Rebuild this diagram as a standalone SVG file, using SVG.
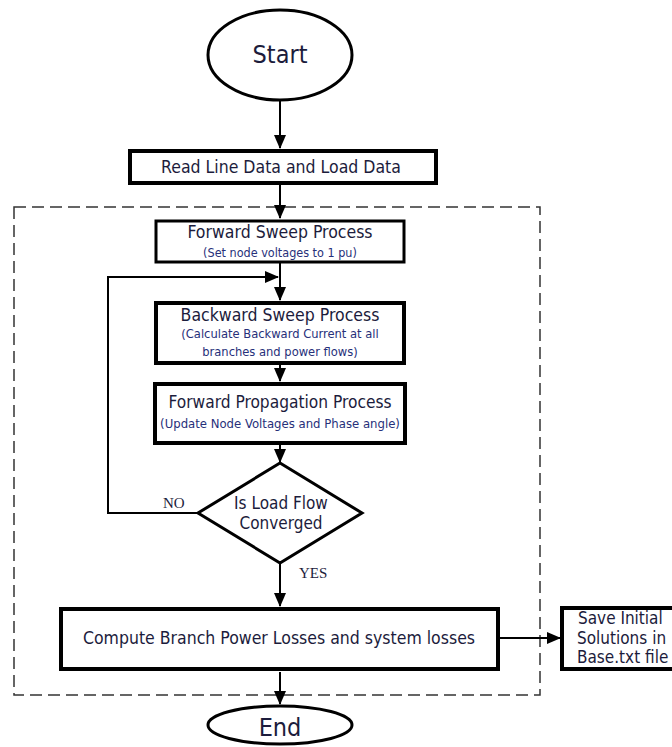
<svg xmlns="http://www.w3.org/2000/svg" width="672" height="747" viewBox="0 0 672 747">
<style>
.box{fill:#fff;stroke:#000;stroke-width:4}
.thin{fill:#fff;stroke:#000;stroke-width:3}
.t{font-family:"DejaVu Sans Condensed","Liberation Sans",sans-serif;fill:#1c1c3c;text-anchor:middle}
.l{font-family:"DejaVu Sans Condensed","Liberation Sans",sans-serif;fill:#1c1c3c;text-anchor:start}
.s{font-family:"DejaVu Sans Condensed","Liberation Sans",sans-serif;fill:#27307a;text-anchor:middle}
.lbl{font-family:"Liberation Serif",serif;fill:#1c1c3c;font-size:15px}
.c{fill:none;stroke:#000;stroke-width:2}
</style>
<defs>
<marker id="ah" markerUnits="userSpaceOnUse" markerWidth="14" markerHeight="12" refX="13" refY="6" orient="auto">
<path d="M0,0 L14,6 L0,12 Z" fill="#000"/>
</marker>
</defs>
<rect id="frame" x="14" y="207" width="526" height="488" fill="none" stroke="#333" stroke-width="1.5" stroke-dasharray="12,6"/>
<g id="connectors">
<line class="c" x1="280" y1="101" x2="280" y2="148" marker-end="url(#ah)"/>
<line class="c" x1="280" y1="185" x2="280" y2="218" marker-end="url(#ah)"/>
<line class="c" x1="280" y1="263" x2="280" y2="300" marker-end="url(#ah)"/>
<line class="c" x1="280" y1="365" x2="280" y2="381" marker-end="url(#ah)"/>
<line class="c" x1="280" y1="445" x2="280" y2="462" marker-end="url(#ah)"/>
<line class="c" x1="280" y1="563" x2="280" y2="606" marker-end="url(#ah)"/>
<line class="c" x1="280" y1="672" x2="280" y2="704" marker-end="url(#ah)"/>
<polyline class="c" points="197,513 108,513 108,277 278,277" marker-end="url(#ah)"/>
<line class="c" x1="500" y1="638" x2="560" y2="638" stroke-width="1.5" marker-end="url(#ah)"/>
<text class="lbl" x="163" y="508">NO</text>
<text class="lbl" x="299" y="578">YES</text>
</g>
<g id="start">
<ellipse cx="280" cy="55" rx="72" ry="45" fill="#fff" stroke="#000" stroke-width="3"/>
<text class="t" x="280" y="63" font-size="25">Start</text>
</g>
<g id="read">
<rect class="box" x="130" y="151" width="306" height="32"/>
<text class="t" x="281" y="173" font-size="17.5">Read Line Data and Load Data</text>
</g>
<g id="fwdsweep">
<rect class="thin" x="156" y="221" width="248" height="41"/>
<text class="t" x="280" y="238" font-size="17.5">Forward Sweep Process</text>
<text class="s" x="280" y="257" font-size="12.5">(Set node voltages to 1 pu)</text>
</g>
<g id="backsweep">
<rect class="box" x="156" y="303" width="248" height="60"/>
<text class="t" x="280" y="321" font-size="17.5">Backward Sweep Process</text>
<text class="s" x="280" y="338" font-size="12.8">(Calculate Backward Current at all</text>
<text class="s" x="280" y="356" font-size="12.8">branches and power flows)</text>
</g>
<g id="fwdprop">
<rect class="box" x="155" y="384" width="250" height="59"/>
<text class="t" x="280" y="408" font-size="17.2">Forward Propagation Process</text>
<text class="s" x="280" y="428" font-size="13">(Update Node Voltages and Phase angle)</text>
</g>
<g id="decision">
<polygon points="280,463 362,513 280,563 198,513" fill="#fff" stroke="#000" stroke-width="3"/>
<text class="t" x="281" y="509" font-size="17">Is Load Flow</text>
<text class="t" x="281" y="529" font-size="17">Converged</text>
</g>
<g id="compute">
<rect class="box" x="61" y="609" width="437" height="60"/>
<text class="t" x="279" y="644" font-size="17.5">Compute Branch Power Losses and system losses</text>
</g>
<g id="save">
<rect class="box" x="562" y="608" width="120" height="61"/>
<text class="l" x="578" y="624" font-size="17">Save Initial</text>
<text class="l" x="577" y="644" font-size="17">Solutions in</text>
<text class="l" x="577" y="663" font-size="17">Base.txt file</text>
</g>
<g id="end">
<ellipse cx="280" cy="725" rx="72" ry="19" fill="#fff" stroke="#000" stroke-width="3"/>
<text class="t" x="280" y="736" font-size="25">End</text>
</g>
</svg>
